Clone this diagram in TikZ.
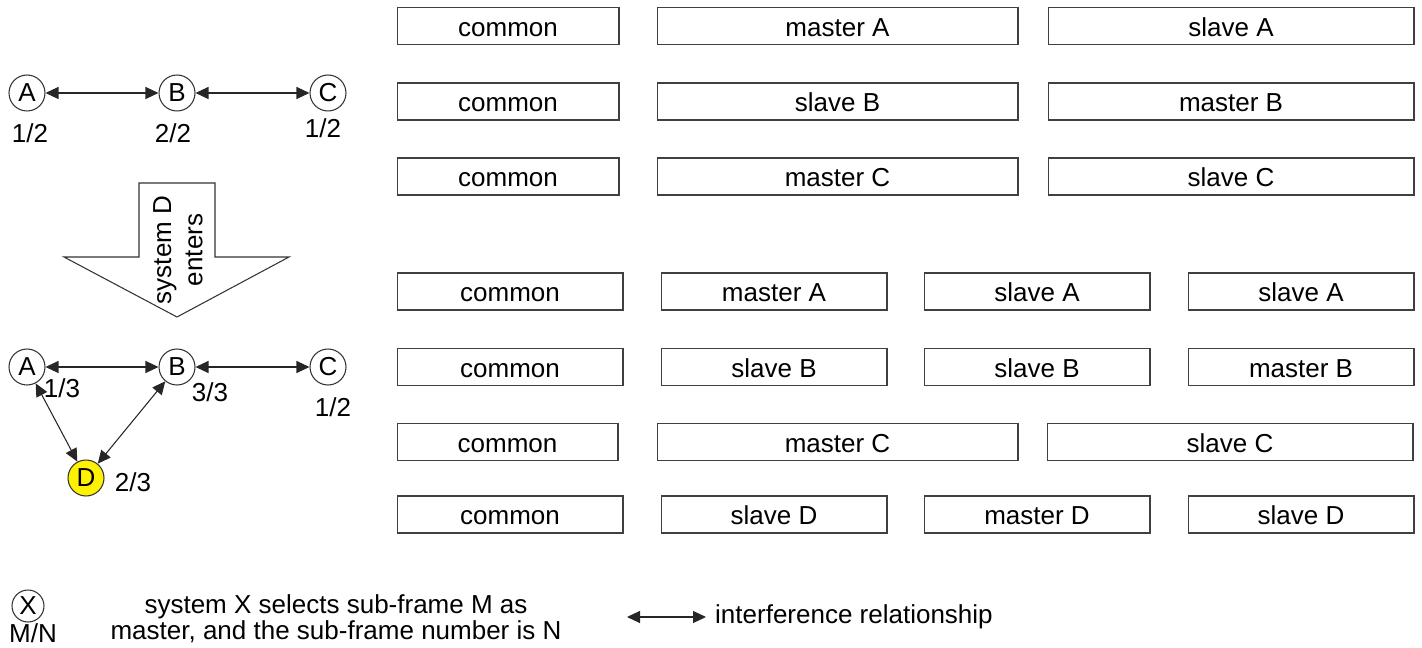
\documentclass[tikz,border=0pt]{standalone}
\usepackage{fontspec}
\setmainfont{Liberation Sans}
\usetikzlibrary{arrows.meta}
\tikzset{
  frame/.style={draw=black!75,line width=0.6pt,minimum height=0.74cm,inner sep=0pt,
    text height=14pt,text depth=2.2pt},
  sys/.style={circle,draw=black!80,line width=0.6pt,minimum size=0.72cm,inner sep=0pt},
  link/.style={{Triangle[length=0.26cm,width=0.24cm]}-{Triangle[length=0.26cm,width=0.24cm]},
    line width=0.6pt,black!85}
}
\begin{document}
\begin{tikzpicture}[x=0.02cm,y=-0.02cm,font=\fontsize{14.8}{17.8}\selectfont]
  \useasboundingbox (0,0) rectangle (1422,648);
  % three systems
  \node[sys] (A1) at (27,93) {A};
  \node[sys] (B1) at (177,93) {B};
  \node[sys] (C1) at (328,93) {C};
  \node (nA1) at (30,133) {1/2};
  \node (nB1) at (173,133) {2/2};
  \node (nC1) at (323,128) {1/2};
  \path[link] (A1) edge (B1)
	      (B1) edge (C1);
  % big arrow
  \draw[black!80,line width=0.6pt] (139,183) -- (215,183) -- (215,257) -- (289,257)
    -- (177,317) -- (64,257) -- (139,257) -- cycle;
  \node[rotate=90,align=center] (enter) at (178,250) {system D\\enters};
  % four systems
  \node[sys] (A2) at (27,367) {A};
  \node[sys] (B2) at (177,367) {B};
  \node[sys] (C2) at (328,367) {C};
  \node[sys,fill=yellow] (D2) at (86,478) {D};
  \node (nA2) at (62,388) {1/3};
  \node (nB2) at (210,392) {3/3};
  \node (nC2) at (333,407) {1/2};
  \node (nD2) at (133,482) {2/3};
  \path[link] (A2) edge (B2)
	      (B2) edge (C2)
	      (A2) edge (D2)
	      (B2) edge (D2);
  % sub-frames, three systems
  \node[frame,minimum width=4.44cm] (cA) at (508,26) {common};
  \node[frame,minimum width=7.22cm] (mA) at (837.5,26) {master A};
  \node[frame,minimum width=7.32cm] (sA) at (1231,26) {slave A};
  \node[frame,minimum width=4.44cm] (cB) at (508,101.5) {common};
  \node[frame,minimum width=7.22cm] (sB) at (837.5,101.5) {slave B};
  \node[frame,minimum width=7.32cm] (mB) at (1231,101.5) {master B};
  \node[frame,minimum width=4.44cm] (cC) at (508,176.5) {common};
  \node[frame,minimum width=7.22cm] (mC) at (837.5,176.5) {master C};
  \node[frame,minimum width=7.32cm] (sC) at (1231,176.5) {slave C};
  % sub-frames, four systems
  \node[frame,minimum width=4.52cm] (cA2) at (510,291.5) {common};
  \node[frame,minimum width=4.52cm] (mA2) at (774,291.5) {master A};
  \node[frame,minimum width=4.52cm] (sA2) at (1037,291.5) {slave A};
  \node[frame,minimum width=4.52cm] (tA2) at (1301,291.5) {slave A};
  \node[frame,minimum width=4.52cm] (cB2) at (510,367) {common};
  \node[frame,minimum width=4.52cm] (sB2) at (774,367) {slave B};
  \node[frame,minimum width=4.52cm] (tB2) at (1037,367) {slave B};
  \node[frame,minimum width=4.52cm] (mB2) at (1301,367) {master B};
  \node[frame,minimum width=4.42cm] (cC2) at (507.5,442) {common};
  \node[frame,minimum width=7.22cm] (mC2) at (837.5,442) {master C};
  \node[frame,minimum width=7.32cm] (sC2) at (1230,442) {slave C};
  \node[frame,minimum width=4.52cm] (cD2) at (510,514.5) {common};
  \node[frame,minimum width=4.52cm] (sD2) at (774,514.5) {slave D};
  \node[frame,minimum width=4.52cm] (mD2) at (1037,514.5) {master D};
  \node[frame,minimum width=4.52cm] (tD2) at (1301,514.5) {slave D};
  % legend
  \node[sys,minimum size=0.64cm] (X) at (28,606) {X};
  \node (nX) at (33,633) {M/N};
  \node[align=center,font=\fontsize{14.8}{13.6}\selectfont] (legtext) at (336,619)
    {system X selects sub-frame M as\\master, and the sub-frame number is N};
  \coordinate (l1) at (627,617);
  \coordinate (l2) at (706,617);
  \draw[link] (l1) -- (l2);
  \node[anchor=west] (legarrow) at (709,617) {interference relationship};
\end{tikzpicture}
\end{document}
